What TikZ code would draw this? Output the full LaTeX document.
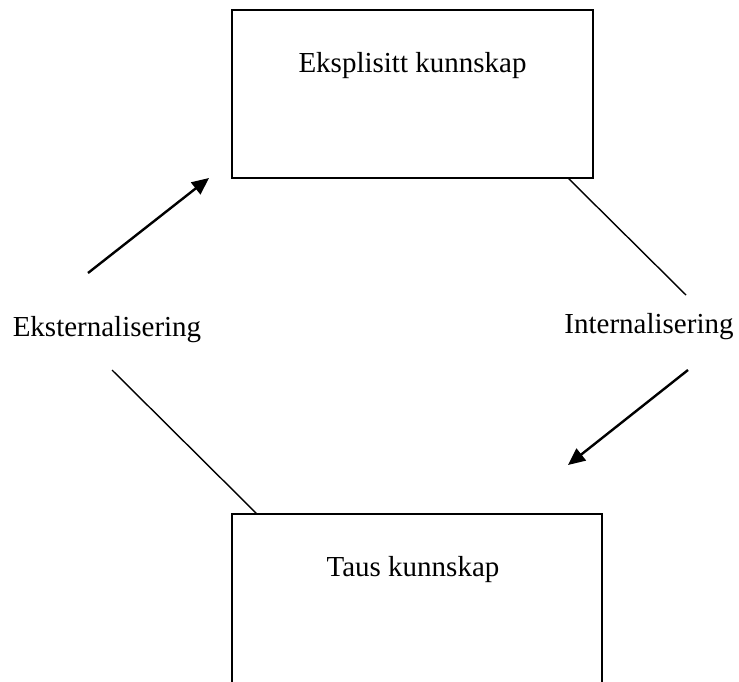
\documentclass[tikz,border=0pt]{standalone}
\usepackage{fontspec}
\setmainfont{Liberation Serif}
\usetikzlibrary{arrows.meta}
\begin{document}
\begin{tikzpicture}[x=1pt, y=-1pt,
  box/.style={draw, line width=1.8pt, inner sep=0pt},
  label/.style={font=\fontsize{29}{34}\selectfont, inner sep=0pt, anchor=base},
  link/.style={line width=1.4pt},
  flow/.style={line width=2.4pt, -{Triangle[length=17pt, width=15pt]}}]
  \useasboundingbox (0,0) rectangle (739,681);
  \clip (0,0) rectangle (739,681);
  % knowledge boxes
  \draw[box] (232,10) rectangle (593,178);
  \draw[box] (232,514) rectangle (602,700);
  \node[label] (eks) at (412.5,72) {Eksplisitt kunnskap};
  \node[label] (taus) at (413,576) {Taus kunnskap};
  % conversion labels
  \node[label] (ext) at (107,336) {Eksternalisering};
  \node[label] (int) at (649,333) {Internalisering};
  % connectors
  \coordinate (a1) at (88,273);
  \coordinate (a2) at (209,178);
  \coordinate (b1) at (112,370);
  \coordinate (b2) at (257,514);
  \coordinate (c1) at (568,178);
  \coordinate (c2) at (686,295);
  \coordinate (d1) at (688,370);
  \coordinate (d2) at (568,465);
  \draw[flow] (a1) -- (a2);
  \draw[link] (b1) -- (b2);
  \draw[link] (c1) -- (c2);
  \draw[flow] (d1) -- (d2);
\end{tikzpicture}
\end{document}
